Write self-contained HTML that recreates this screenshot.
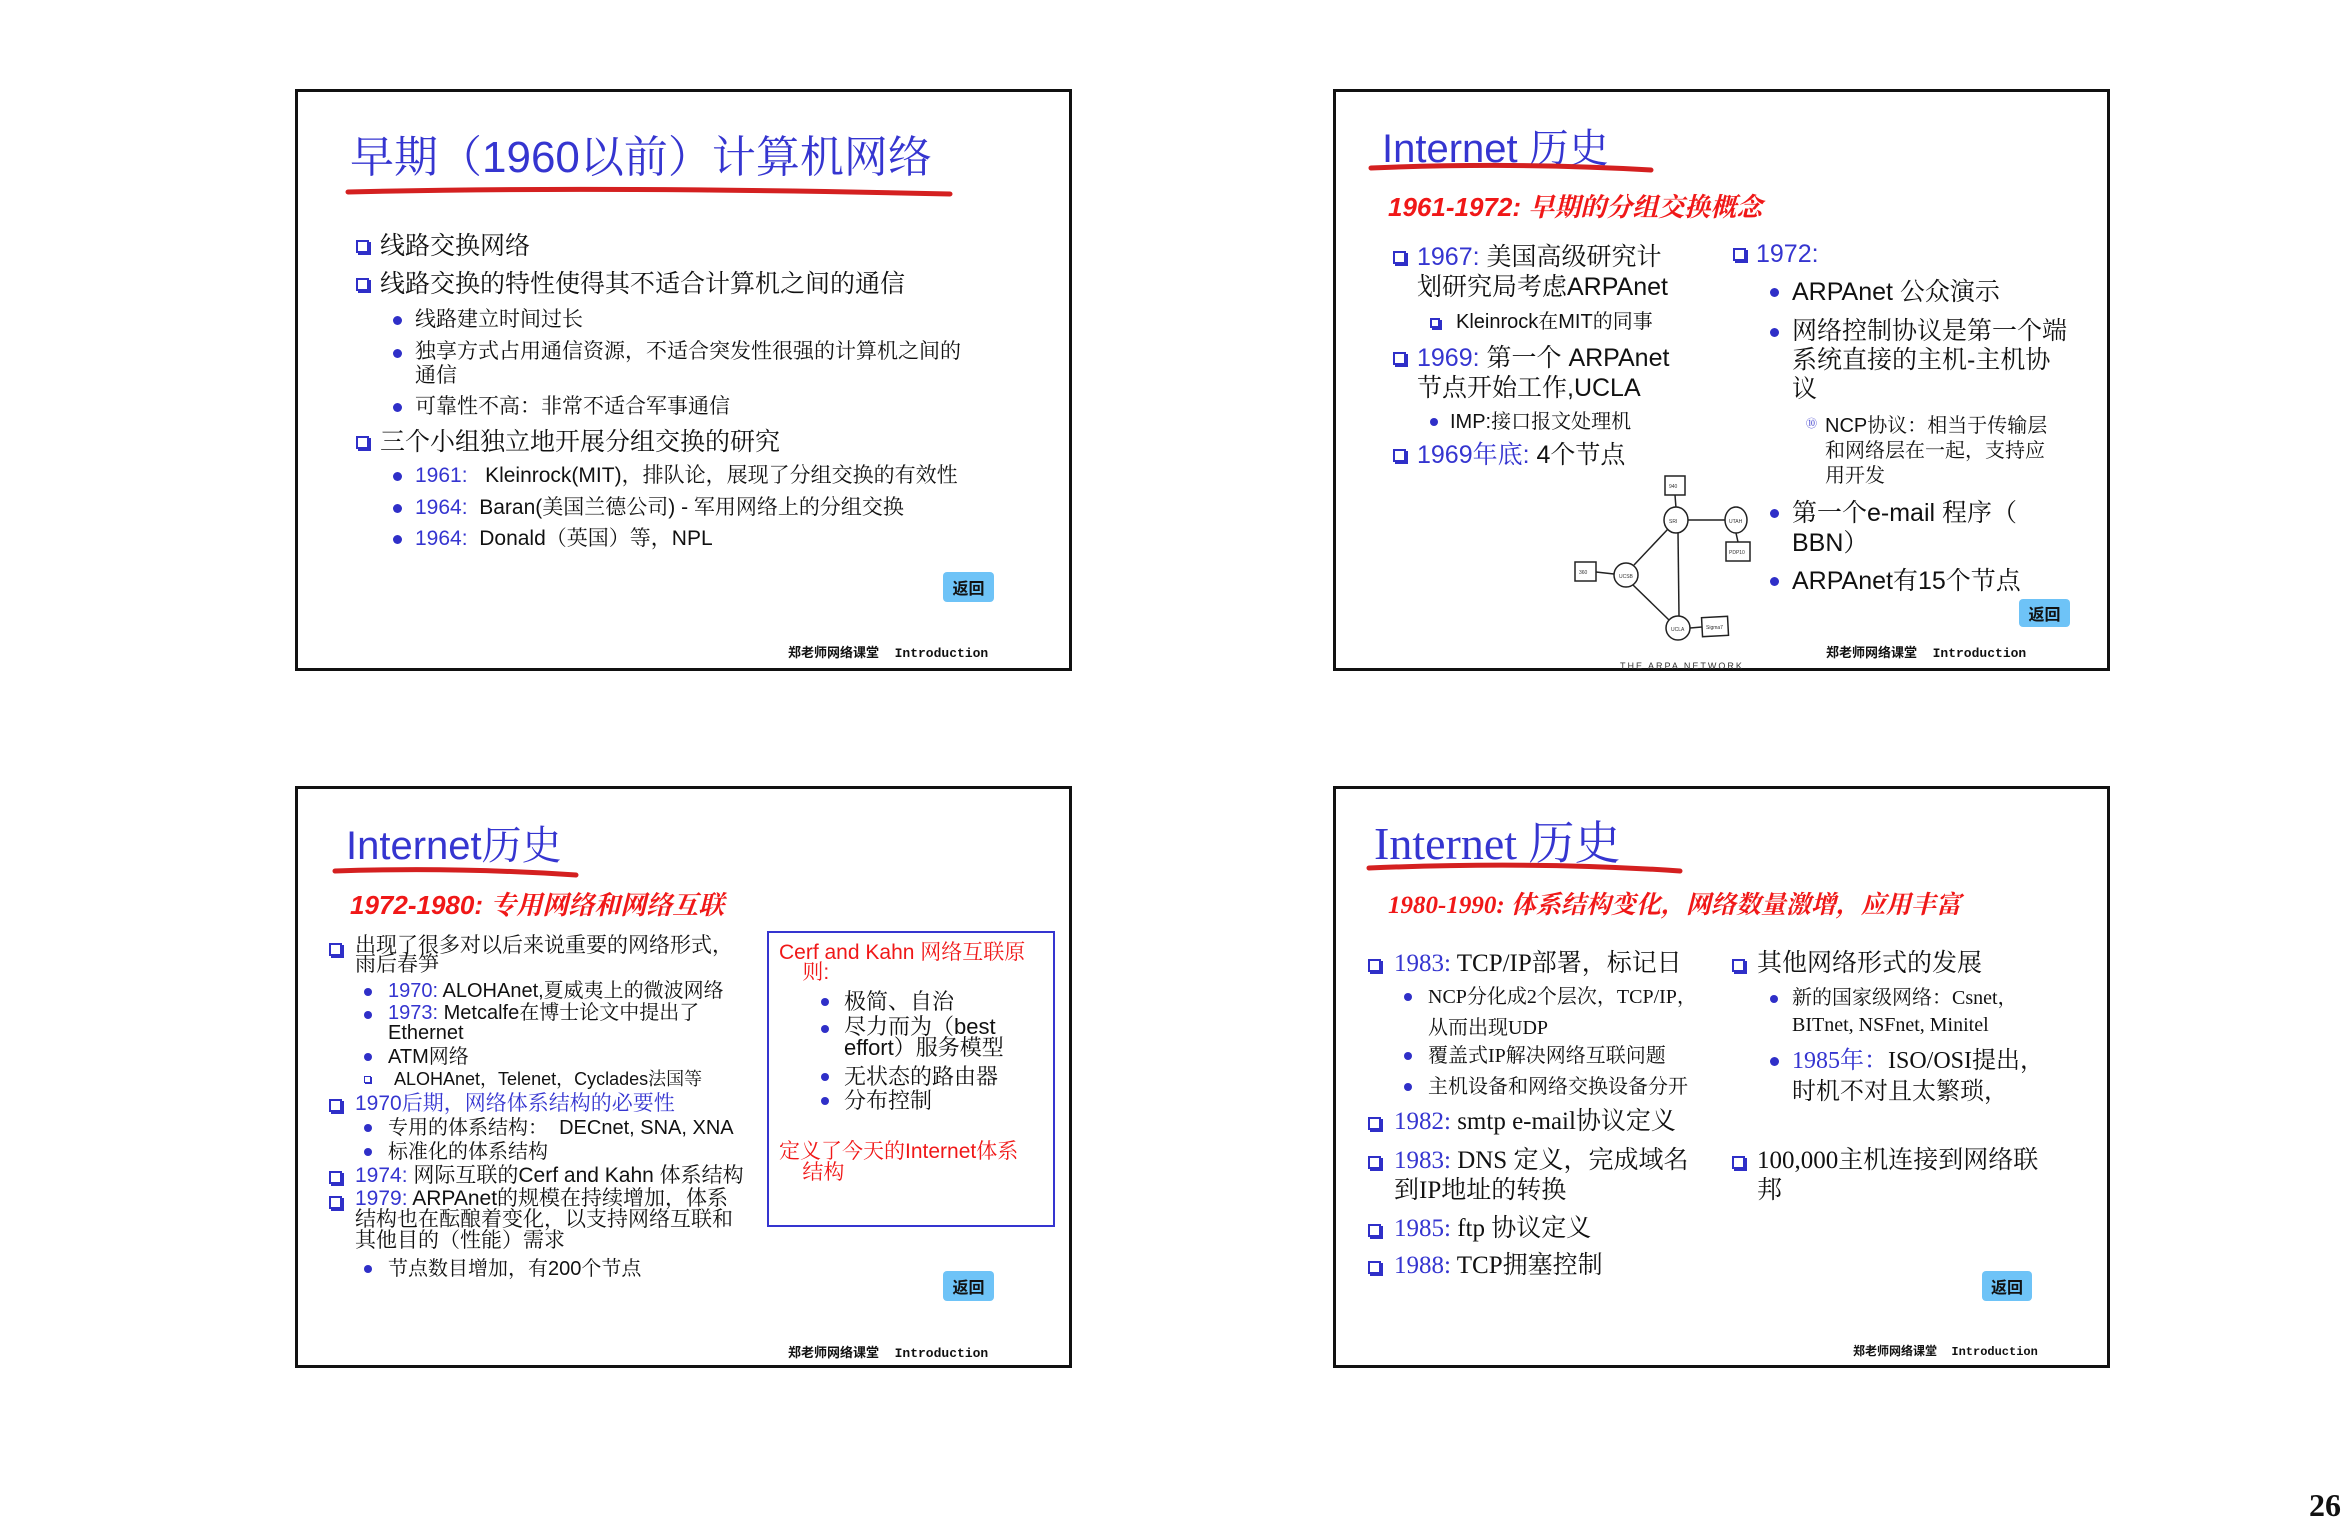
<!DOCTYPE html>
<html><head><meta charset="utf-8">
<style>
body{margin:0;background:#fff;width:2346px;height:1524px;position:relative;overflow:hidden;font-family:"Liberation Sans","Noto Serif CJK SC",serif;}
.s{position:absolute;width:777px;height:582px;border:3px solid #111;box-sizing:border-box;background:#fff;}
.t{position:absolute;white-space:nowrap;line-height:1.2;color:#111;}
.b{color:#3535d0;}
.r{color:#f01818;}
.sq{position:absolute;width:9px;height:9px;border:2px solid #2f2fc8;box-shadow:2px 2px 0 #2f2fc8;}
.dt{position:absolute;width:9px;height:9px;border-radius:50%;background:#2f2fc8;}
.btn{position:absolute;background:#6ec3f7;border-radius:4px;font:bold 16px "Noto Sans CJK SC",sans-serif;color:#111;text-align:center;}
.ft{position:absolute;font:bold 13px "Liberation Mono","Noto Sans CJK SC",monospace;white-space:nowrap;color:#111;}
.ti{font-family:"Liberation Sans","Noto Serif CJK SC",serif;color:#3535d0;}
.ri{font-style:italic;font-weight:bold;color:#f01818;}
.ser{font-family:"Liberation Serif","Noto Serif CJK SC",serif;}
</style></head><body>

<!-- Slide 1 -->
<div class="s" style="left:295px;top:89px;">
<div class="t ti" style="left:52px;top:40px;font-size:44px;">早期（1960以前）计算机网络</div>
<svg style="position:absolute;left:0;top:0" width="777" height="582"><path d="M50 100 Q300 94 652 102" stroke="#d42020" stroke-width="5" fill="none" stroke-linecap="round"/></svg>
<div class="sq" style="left:58px;top:148px"></div><div class="t" style="left:82px;top:139px;font-size:25px;">线路交换网络</div>
<div class="sq" style="left:58px;top:186px"></div><div class="t" style="left:82px;top:177px;font-size:25px;">线路交换的特性使得其不适合计算机之间的通信</div>
<div class="dt" style="left:95px;top:224px"></div><div class="t" style="left:117px;top:215px;font-size:21px;">线路建立时间过长</div>
<div class="dt" style="left:95px;top:257px"></div><div class="t" style="left:117px;top:248px;font-size:21px;line-height:1.15">独享方式占用通信资源，不适合突发性很强的计算机之间的<br>通信</div>
<div class="dt" style="left:95px;top:311px"></div><div class="t" style="left:117px;top:302px;font-size:21px;">可靠性不高：非常不适合军事通信</div>
<div class="sq" style="left:58px;top:344px"></div><div class="t" style="left:82px;top:335px;font-size:25px;">三个小组独立地开展分组交换的研究</div>
<div class="dt" style="left:95px;top:380px"></div><div class="t" style="left:117px;top:371px;font-size:21px;"><span class="b">1961:</span>&nbsp;&nbsp; Kleinrock(MIT)，排队论，展现了分组交换的有效性</div>
<div class="dt" style="left:95px;top:412px"></div><div class="t" style="left:117px;top:403px;font-size:21px;"><span class="b">1964:</span>&nbsp; Baran(美国兰德公司) - 军用网络上的分组交换</div>
<div class="dt" style="left:95px;top:443px"></div><div class="t" style="left:117px;top:434px;font-size:21px;"><span class="b">1964:</span>&nbsp; Donald（英国）等，NPL</div>
<div class="btn" style="left:645px;top:480px;width:51px;height:30px;line-height:30px;">返回</div>
<div class="ft" style="left:490px;top:550px;">郑老师网络课堂&nbsp; Introduction</div>
</div>

<!-- Slide 2 -->
<div class="s" style="left:1333px;top:89px;">
<div class="t ti" style="left:46px;top:33px;font-size:40px;">Internet 历史</div>
<svg style="position:absolute;left:0;top:0" width="777" height="582">
<path d="M35 76 Q180 70 315 78" stroke="#d42020" stroke-width="5" fill="none" stroke-linecap="round"/>
<g stroke="#222" stroke-width="1.5" fill="#fff">
<line x1="339" y1="403" x2="340" y2="416"/>
<line x1="352" y1="428" x2="389" y2="428"/>
<line x1="400" y1="441" x2="402" y2="450"/>
<line x1="332" y1="437" x2="298" y2="473"/>
<line x1="342" y1="440" x2="343" y2="524"/>
<line x1="297" y1="493" x2="333" y2="528"/>
<line x1="260" y1="480" x2="278" y2="482"/>
<line x1="354" y1="536" x2="366" y2="535"/>
<rect x="329" y="384" width="20" height="19"/>
<rect x="390" y="450" width="24" height="19"/>
<rect x="239" y="470" width="21" height="19"/>
<rect x="366" y="525" width="26" height="19" transform="rotate(-3 379 534)"/>
<ellipse cx="340" cy="428" rx="12" ry="13"/>
<ellipse cx="400" cy="428" rx="11" ry="13"/>
<ellipse cx="290" cy="483" rx="12" ry="12"/>
<ellipse cx="342" cy="536" rx="12" ry="12"/>
</g>
<g font-family="Liberation Sans" font-size="5" fill="#333">
<text x="333" y="396">940</text><text x="333" y="431">SRI</text><text x="393" y="431">UTAH</text>
<text x="393" y="462">PDP10</text><text x="283" y="486">UCSB</text><text x="243" y="482">360</text>
<text x="335" y="539">UCLA</text><text x="370" y="537">Sigma7</text>
</g>
<text x="284" y="577" font-family="Liberation Sans" font-size="9" fill="#333" letter-spacing="2">THE ARPA NETWORK</text>
</svg>
<div class="t ri" style="left:52px;top:100px;font-size:26px;">1961-1972: 早期的分组交换概念</div>
<div class="sq" style="left:57px;top:159px"></div><div class="t" style="left:81px;top:150px;font-size:25px;"><span class="b">1967:</span> 美国高级研究计</div>
<div class="t" style="left:81px;top:180px;font-size:25px;">划研究局考虑ARPAnet</div>
<div class="sq" style="left:94px;top:226px;width:6px;height:6px;"></div><div class="t" style="left:120px;top:218px;font-size:20px;">Kleinrock在MIT的同事</div>
<div class="sq" style="left:57px;top:260px"></div><div class="t" style="left:81px;top:251px;font-size:25px;"><span class="b">1969:</span> 第一个 ARPAnet</div>
<div class="t" style="left:81px;top:281px;font-size:25px;">节点开始工作,UCLA</div>
<div class="dt" style="left:94px;top:326px;width:8px;height:8px"></div><div class="t" style="left:114px;top:318px;font-size:20px;">IMP:接口报文处理机</div>
<div class="sq" style="left:57px;top:357px"></div><div class="t" style="left:81px;top:348px;font-size:25px;"><span class="b">1969年底:</span> 4个节点</div>
<div class="sq" style="left:397px;top:156px"></div><div class="t b" style="left:420px;top:147px;font-size:25px;">1972:</div>
<div class="dt" style="left:434px;top:196px"></div><div class="t" style="left:456px;top:185px;font-size:25px;">ARPAnet 公众演示</div>
<div class="dt" style="left:434px;top:236px"></div><div class="t" style="left:456px;top:225px;font-size:25px;line-height:29px;">网络控制协议是第一个端<br>系统直接的主机-主机协<br>议</div>
<div class="t" style="left:470px;top:326px;font-size:11px;color:#2f2fc8;">⑩</div>
<div class="t" style="left:489px;top:322px;font-size:20px;line-height:25px;">NCP协议：相当于传输层<br>和网络层在一起，支持应<br>用开发</div>
<div class="dt" style="left:434px;top:417px"></div><div class="t" style="left:456px;top:406px;font-size:25px;line-height:30px;">第一个e-mail 程序（<br>BBN）</div>
<div class="dt" style="left:434px;top:485px"></div><div class="t" style="left:456px;top:474px;font-size:25px;">ARPAnet有15个节点</div>
<div class="btn" style="left:683px;top:507px;width:51px;height:28px;line-height:28px;">返回</div>
<div class="ft" style="left:490px;top:550px;">郑老师网络课堂&nbsp; Introduction</div>
</div>

<!-- Slide 3 -->
<div class="s" style="left:295px;top:786px;">
<div class="t ti" style="left:48px;top:33px;font-size:40px;">Internet历史</div>
<svg style="position:absolute;left:0;top:0" width="777" height="582"><path d="M37 82 Q160 78 278 86" stroke="#d42020" stroke-width="5" fill="none" stroke-linecap="round"/></svg>
<div class="t ri" style="left:52px;top:101px;font-size:26px;">1972-1980: 专用网络和网络互联</div>
<div class="sq" style="left:31px;top:154px"></div><div class="t" style="left:57px;top:147px;font-size:21px;line-height:19px;">出现了很多对以后来说重要的网络形式，<br>雨后春笋</div>
<div class="dt" style="left:66px;top:199px;width:8px;height:8px"></div><div class="t" style="left:90px;top:190px;font-size:20px;"><span class="b">1970:</span> ALOHAnet,夏威夷上的微波网络</div>
<div class="dt" style="left:66px;top:222px;width:8px;height:8px"></div><div class="t" style="left:90px;top:214px;font-size:20px;line-height:20px;"><span class="b">1973:</span> Metcalfe在博士论文中提出了<br>Ethernet</div>
<div class="dt" style="left:66px;top:264px;width:8px;height:8px"></div><div class="t" style="left:90px;top:256px;font-size:20px;">ATM网络</div>
<div class="sq" style="left:66px;top:287px;width:5px;height:5px;border-width:1.5px;box-shadow:1px 1px 0 #2f2fc8"></div><div class="t" style="left:96px;top:280px;font-size:18px;">ALOHAnet，Telenet，Cyclades法国等</div>
<div class="sq" style="left:31px;top:310px"></div><div class="t b" style="left:57px;top:302px;font-size:21px;">1970后期，网络体系结构的必要性</div>
<div class="dt" style="left:66px;top:335px;width:8px;height:8px"></div><div class="t" style="left:90px;top:327px;font-size:20px;">专用的体系结构：&nbsp; DECnet, SNA, XNA</div>
<div class="dt" style="left:66px;top:359px;width:8px;height:8px"></div><div class="t" style="left:90px;top:351px;font-size:20px;">标准化的体系结构</div>
<div class="sq" style="left:31px;top:382px"></div><div class="t" style="left:57px;top:374px;font-size:21px;"><span class="b">1974:</span> 网际互联的Cerf and Kahn 体系结构</div>
<div class="sq" style="left:31px;top:407px"></div><div class="t" style="left:57px;top:399px;font-size:21px;line-height:21px;"><span class="b">1979:</span> ARPAnet的规模在持续增加，体系<br>结构也在酝酿着变化，以支持网络互联和<br>其他目的（性能）需求</div>
<div class="dt" style="left:66px;top:476px;width:8px;height:8px"></div><div class="t" style="left:90px;top:468px;font-size:20px;">节点数目增加，有200个节点</div>
<div style="position:absolute;left:469px;top:142px;width:288px;height:296px;border:2px solid #3535d0;box-sizing:border-box;"></div>
<div class="t r" style="left:481px;top:154px;font-size:21px;line-height:20px;">Cerf and Kahn 网络互联原<br>&nbsp;&nbsp;&nbsp;&nbsp;则:</div>
<div class="dt" style="left:523px;top:209px;width:8px;height:8px"></div><div class="t" style="left:546px;top:200px;font-size:22px;">极简、自治</div>
<div class="dt" style="left:523px;top:236px;width:8px;height:8px"></div><div class="t" style="left:546px;top:227px;font-size:22px;line-height:21px;">尽力而为（best<br>effort）服务模型</div>
<div class="dt" style="left:523px;top:284px;width:8px;height:8px"></div><div class="t" style="left:546px;top:275px;font-size:22px;">无状态的路由器</div>
<div class="dt" style="left:523px;top:308px;width:8px;height:8px"></div><div class="t" style="left:546px;top:299px;font-size:22px;">分布控制</div>
<div class="t r" style="left:481px;top:352px;font-size:21px;line-height:21px;">定义了今天的Internet体系<br>&nbsp;&nbsp;&nbsp;&nbsp;结构</div>
<div class="btn" style="left:645px;top:482px;width:51px;height:30px;line-height:30px;">返回</div>
<div class="ft" style="left:490px;top:553px;">郑老师网络课堂&nbsp; Introduction</div>
</div>

<!-- Slide 4 -->
<div class="s" style="left:1333px;top:786px;">
<div class="t ser" style="left:38px;top:27px;font-size:46px;color:#3535d0;">Internet 历史</div>
<svg style="position:absolute;left:0;top:0" width="777" height="582"><path d="M33 79 Q200 72 344 82" stroke="#d42020" stroke-width="5" fill="none" stroke-linecap="round"/></svg>
<div class="t ri ser" style="left:52px;top:102px;font-size:25px;">1980-1990: 体系结构变化，网络数量激增，应用丰富</div>
<div class="sq ser" style="left:32px;top:170px"></div><div class="t ser" style="left:58px;top:160px;font-size:25px;"><span class="b">1983:</span> TCP/IP部署，标记日</div>
<div class="dt" style="left:68px;top:204px;width:8px;height:8px"></div><div class="t ser" style="left:92px;top:193px;font-size:20px;line-height:31px;">NCP分化成2个层次，TCP/IP，<br>从而出现UDP</div>
<div class="dt" style="left:68px;top:263px;width:8px;height:8px"></div><div class="t ser" style="left:92px;top:255px;font-size:20px;">覆盖式IP解决网络互联问题</div>
<div class="dt" style="left:68px;top:294px;width:8px;height:8px"></div><div class="t ser" style="left:92px;top:286px;font-size:20px;">主机设备和网络交换设备分开</div>
<div class="sq" style="left:32px;top:328px"></div><div class="t ser" style="left:58px;top:318px;font-size:25px;"><span class="b">1982:</span> smtp e-mail协议定义</div>
<div class="sq" style="left:32px;top:367px"></div><div class="t ser" style="left:58px;top:357px;font-size:25px;line-height:30px;"><span class="b">1983:</span> DNS 定义，完成域名<br>到IP地址的转换</div>
<div class="sq" style="left:32px;top:435px"></div><div class="t ser" style="left:58px;top:425px;font-size:25px;"><span class="b">1985:</span> ftp 协议定义</div>
<div class="sq" style="left:32px;top:472px"></div><div class="t ser" style="left:58px;top:462px;font-size:25px;"><span class="b">1988:</span> TCP拥塞控制</div>
<div class="sq" style="left:396px;top:170px"></div><div class="t ser" style="left:421px;top:160px;font-size:25px;">其他网络形式的发展</div>
<div class="dt" style="left:434px;top:206px;width:8px;height:8px"></div><div class="t ser" style="left:456px;top:196px;font-size:20px;line-height:27px;">新的国家级网络：Csnet，<br>BITnet, NSFnet, Minitel</div>
<div class="dt" style="left:434px;top:268px"></div><div class="t ser" style="left:456px;top:257px;font-size:24px;line-height:31px;"><span class="b">1985年：</span>ISO/OSI提出，<br>时机不对且太繁琐，</div>
<div class="sq" style="left:396px;top:367px"></div><div class="t ser" style="left:421px;top:357px;font-size:25px;line-height:30px;">100,000主机连接到网络联<br>邦</div>
<div class="btn" style="left:646px;top:482px;width:50px;height:30px;line-height:30px;">返回</div>
<div class="ft" style="left:517px;top:553px;font-size:12px;">郑老师网络课堂&nbsp; Introduction</div>
</div>

<div class="t" style="left:2309px;top:1487px;font:bold 32px 'Liberation Serif',serif;color:#111;">26</div>
</body></html>
